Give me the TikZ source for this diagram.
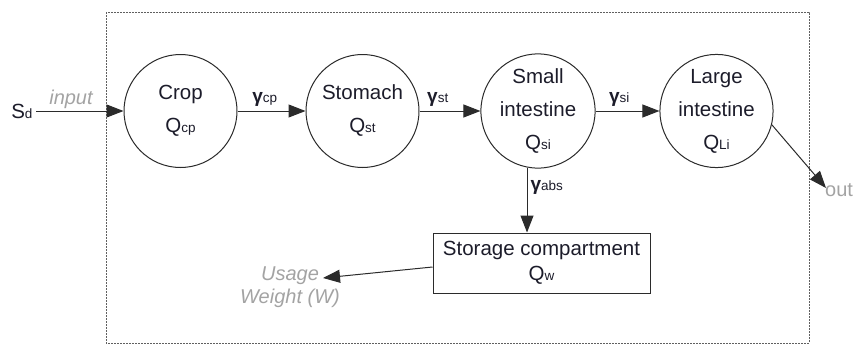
\documentclass[tikz,border=0pt]{standalone}
\usepackage{fontspec}
\setmainfont{Liberation Sans}
\usetikzlibrary{arrows.meta}
\definecolor{ink}{HTML}{1C1C2A}
\definecolor{soft}{HTML}{A3A3A3}
\definecolor{wire}{HTML}{2B2B2B}
\newcommand{\subtxt}[1]{{\fontsize{13.5}{13.5}\selectfont #1}}
\newcommand{\rate}[1]{{\fontsize{19}{19}\selectfont\bfseries γ}{\fontsize{13.5}{13.5}\selectfont #1}}
\begin{document}
\begin{tikzpicture}[x=1pt,y=-1pt,
  comp/.style={circle, draw=wire, line width=1pt, minimum size=113pt, inner sep=0pt,
    align=center, text=ink, font=\fontsize{20.5}{33}\selectfont},
  store/.style={rectangle, draw=wire, line width=1pt, minimum width=217pt, minimum height=60pt,
    inner sep=0pt, align=center, text=ink, font=\fontsize{20.5}{25}\selectfont},
  flow/.style={draw=wire, line width=1pt, -{Triangle[length=17pt,width=13pt]}},
  rlbl/.style={text=ink, inner sep=1pt},
  note/.style={text=soft, font=\fontsize{20}{23}\selectfont\itshape, align=center},
  frame/.style={draw=wire!75, line width=0.9pt, dash pattern=on 2pt off 1pt}]
\useasboundingbox (0,0) rectangle (854,348);
% system boundary
\draw[frame] (106,12) rectangle (809,343);
% compartments
\node[comp] (crop) at (180.5,111) {Crop\\Q\subtxt{cp}};
\node[comp] (stom) at (362.5,111) {Stomach\\Q\subtxt{st}};
\node[comp] (si) at (538,111) {Small\\intestine\\Q\subtxt{si}};
\node[comp] (li) at (716.5,111) {Large\\intestine\\Q\subtxt{Li}};
\node[store] (store) at (541.5,263) {Storage compartment\\Q\subtxt{w}};
% inputs and outputs
\node[text=ink, font=\fontsize{20.5}{20}\selectfont, anchor=east] (sd) at (36,111) {S\subtxt{d}};
\node[text=soft, font=\fontsize{20}{20}\selectfont, anchor=west, inner sep=0pt] (out) at (825,190) {out};
\node[note] (use) at (290,287) {Usage\\Weight (W)};
\coordinate (usetip) at (323,278);
\coordinate (outtip) at (826,188);
% flows
\draw[flow] (sd.east) -- node[pos=0.4, above=2pt, note, inner sep=0pt] (inp) {input} (crop.west);
\draw[flow] (crop) -- node[rlbl, pos=0.4, above=3pt] (gcp) {\rate{cp}} (stom);
\draw[flow] (stom) -- node[rlbl, pos=0.3, above=3pt] (gst) {\rate{st}} (si);
\draw[flow] (si) -- node[rlbl, pos=0.37, above=3pt] (gsi) {\rate{si}} (li);
\draw[flow] (si.259) -- node[rlbl, pos=0.3, right=2pt] (gab) {\rate{abs}} (si.259 |- store.north);
\draw[flow] (li.-14) -- (outtip);
\draw[flow] (store.west |- 0,267) -- (usetip);
\end{tikzpicture}
\end{document}
